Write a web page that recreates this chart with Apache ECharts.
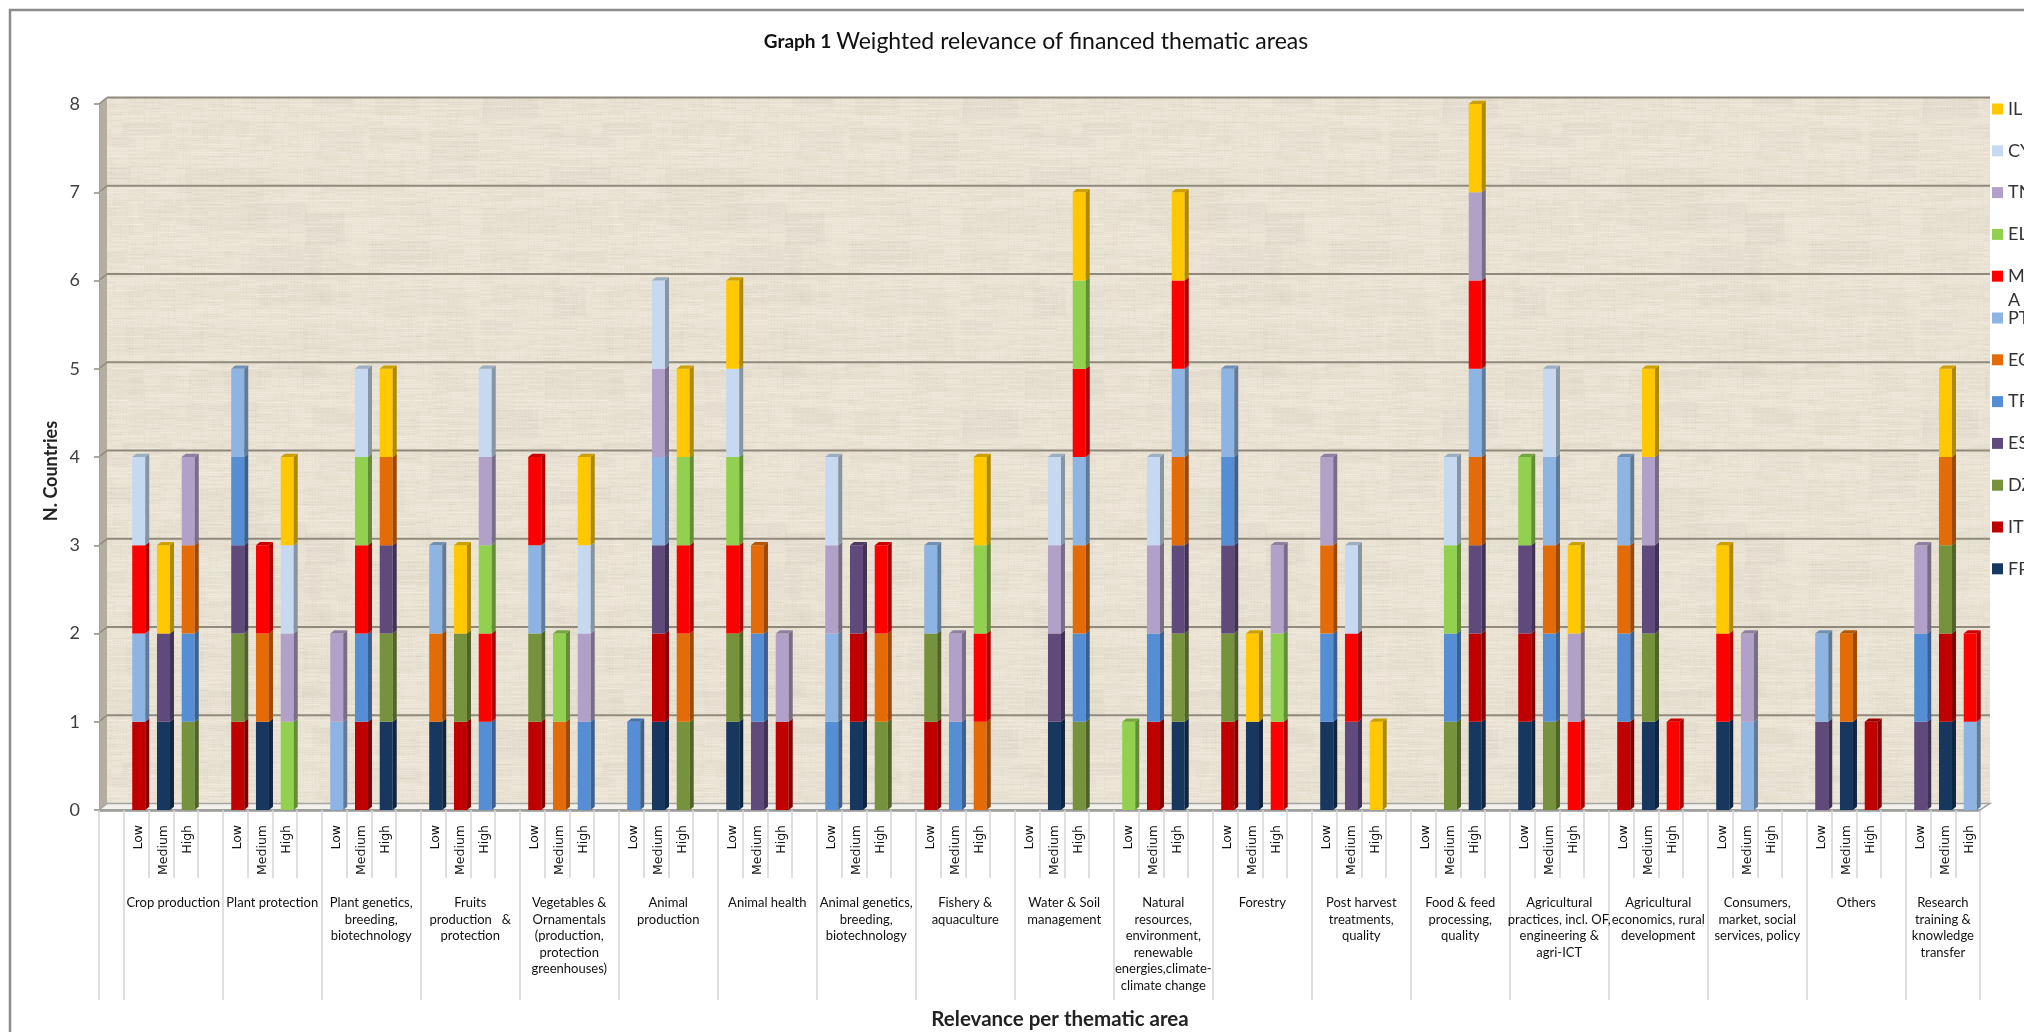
<!DOCTYPE html>
<html><head><meta charset="utf-8">
<script src="https://cdn.jsdelivr.net/npm/echarts@6/dist/echarts.min.js"></script>
<style>html,body{margin:0;padding:0;background:#fff}#c{width:2024px;height:1032px}</style>
</head><body><div id="c"></div>
<script>
const groups=['Crop production','Plant protection','Plant genetics,\nbreeding,\nbiotechnology','Fruits\nproduction   &\nprotection','Vegetables &\nOrnamentals\n(production,\nprotection\ngreenhouses)','Animal\nproduction','Animal health','Animal genetics,\nbreeding,\nbiotechnology','Fishery &\naquaculture','Water & Soil\nmanagement','Natural\nresources,\nenvironment,\nrenewable\nenergies,climate-\nclimate change','Forestry','Post harvest\ntreatments,\nquality','Food & feed\nprocessing,\nquality','Agricultural\npractices, incl. OF,\nengineering &\nagri-ICT','Agricultural\neconomics, rural\ndevelopment','Consumers,\nmarket, social\nservices, policy','Others','Research\ntraining &\nknowledge\ntransfer'];
const levels=['Low','Medium','High'];
const yTicks=[0,1,2,3,4,5,6,7,8];
// values: Low,Medium,High for each of the 19 thematic areas
const FR=[0,1,0, 0,1,0, 0,0,1, 1,0,0, 0,0,0, 0,1,0, 1,0,0, 0,1,0, 0,0,0, 0,1,0, 0,0,1, 0,1,0, 1,0,0, 0,0,1, 1,0,0, 0,1,0, 1,0,0, 0,1,0, 0,1,0];
const IT=[1,0,0, 1,0,0, 0,1,0, 0,1,0, 1,0,0, 0,1,0, 0,0,1, 0,1,0, 1,0,0, 0,0,0, 0,1,0, 1,0,0, 0,0,0, 0,0,1, 1,0,0, 1,0,0, 0,0,0, 0,0,1, 0,1,0];
const DZ=[0,0,1, 1,0,0, 0,0,1, 0,1,0, 1,0,0, 0,0,1, 1,0,0, 0,0,1, 1,0,0, 0,0,1, 0,0,1, 1,0,0, 0,0,0, 0,1,0, 0,1,0, 0,1,0, 0,0,0, 0,0,0, 0,1,0];
const ES=[0,1,0, 1,0,0, 0,0,1, 0,0,0, 0,0,0, 0,1,0, 0,1,0, 0,1,0, 0,0,0, 0,1,0, 0,0,1, 1,0,0, 0,1,0, 0,0,1, 1,0,0, 0,1,0, 0,0,0, 1,0,0, 1,0,0];
const TR=[0,0,1, 1,0,0, 0,1,0, 0,0,1, 0,0,1, 1,0,0, 0,1,0, 1,0,0, 0,1,0, 0,0,1, 0,1,0, 1,0,0, 1,0,0, 0,1,0, 0,1,0, 1,0,0, 0,0,0, 0,0,0, 1,0,0];
const EG=[0,0,1, 0,1,0, 0,0,1, 1,0,0, 0,1,0, 0,0,1, 0,1,0, 0,0,1, 0,0,1, 0,0,1, 0,0,1, 0,0,0, 1,0,0, 0,0,1, 0,1,0, 1,0,0, 0,0,0, 0,1,0, 0,1,0];
const PT=[1,0,0, 1,0,0, 1,0,0, 1,0,0, 1,0,0, 0,1,0, 0,0,0, 1,0,0, 1,0,0, 0,0,1, 0,0,1, 1,0,0, 0,0,0, 0,0,1, 0,1,0, 1,0,0, 0,1,0, 1,0,0, 0,0,1];
const MA=[1,0,0, 0,1,0, 0,1,0, 0,0,1, 1,0,0, 0,0,1, 1,0,0, 0,0,1, 0,0,1, 0,0,1, 0,0,1, 0,0,1, 0,1,0, 0,0,1, 0,0,1, 0,0,1, 1,0,0, 0,0,0, 0,0,1];
const EL=[0,0,0, 0,0,1, 0,1,0, 0,0,1, 0,1,0, 0,0,1, 1,0,0, 0,0,0, 0,0,1, 0,0,1, 1,0,0, 0,0,1, 0,0,0, 0,1,0, 1,0,0, 0,0,0, 0,0,0, 0,0,0, 0,0,0];
const TN=[0,0,1, 0,0,1, 1,0,0, 0,0,1, 0,0,1, 0,1,0, 0,0,1, 1,0,0, 0,1,0, 0,1,0, 0,1,0, 0,0,1, 1,0,0, 0,0,1, 0,0,1, 0,1,0, 0,1,0, 0,0,0, 1,0,0];
const CY=[1,0,0, 0,0,1, 0,1,0, 0,0,1, 0,0,1, 0,1,0, 1,0,0, 1,0,0, 0,0,0, 0,1,0, 0,1,0, 0,0,0, 0,1,0, 0,1,0, 0,1,0, 0,0,0, 0,0,0, 0,0,0, 0,0,0];
const IL=[0,1,0, 0,0,1, 0,0,1, 0,1,0, 0,0,1, 0,0,1, 1,0,0, 0,0,0, 0,0,1, 0,0,1, 0,0,1, 0,1,0, 0,0,1, 0,0,1, 0,0,1, 0,1,0, 1,0,0, 0,0,0, 0,1,0];
const seriesNames=['FR','IT','DZ','ES','TR','EG','PT','MA','EL','TN','CY','IL'];
const seriesValues=[FR,IT,DZ,ES,TR,EG,PT,MA,EL,TN,CY,IL];
const seriesColors=['#17375E','#C00000','#76923C','#604A7B','#558ED5','#E36C09','#8DB4E2','#FF0000','#92D050','#B1A0C7','#C6D9F1','#FFC800'];

const SLOTS=groups.length*4;   // leading blank + 4 per group - trailing blank
const slotOf=(i)=>1+4*Math.floor(i/3)+(i%3);
const slotLabels=new Array(SLOTS).fill('');
for(let i=0;i<groups.length*3;i++) slotLabels[slotOf(i)]=levels[i%3];
const fullSeries=(vals)=>{const a=new Array(SLOTS).fill(0);vals.forEach((v,i)=>{a[slotOf(i)]=v;});return a;};
const groupCenters=groups.map((_,g)=>g===groups.length-1?(1+4*g+1.5):(1+4*g+2));
const groupEdges=[0].concat(groups.map((_,g)=>1+4*g),[SLOTS]);

// depth faces, stacked from the same arrays
const depthData=[];
for(let i=0;i<groups.length*3;i++){
  let base=0,last=-1;
  seriesValues.forEach((s,k)=>{if(s[i]>0)last=k;});
  seriesValues.forEach((s,k)=>{
    if(s[i]>0){depthData.push([slotOf(i),base,base+s[i],k,k===last?1:0]);base+=s[i];}
  });
}
function shade(hex,f){const n=parseInt(hex.slice(1),16);const c=[n>>16,(n>>8)&255,n&255].map(v=>Math.round(v*f));return `rgb(${c[0]},${c[1]},${c[2]})`;}

// woven wall texture
function makeTexture(){
  const cv=document.createElement('canvas');cv.width=480;cv.height=320;
  const g=cv.getContext('2d');g.fillStyle='#EAE3D4';g.fillRect(0,0,480,320);
  const h=(a,b)=>{const t=Math.sin(a*12.9898+b*78.233)*43758.5453;return t-Math.floor(t);};
  for(let y=0;y<320;y+=40){for(let x=0;x<480;x+=60){
    g.fillStyle=`rgba(205,198,182,${0.05+0.12*h(x+1,y+3)})`;
    g.fillRect(x+h(x,y)*20,y+h(y,x)*14,30+h(x+2,y)*50,12+h(x,y+2)*22);
  }}
  for(let y=0;y<320;y+=2){for(let x=0;x<480;x+=16){
    const r=h(x,y),w=8+r*28;
    g.fillStyle=r>0.5?`rgba(250,246,238,${0.08+0.18*h(y,x)})`:`rgba(195,188,172,${0.04+0.12*h(y,x)})`;
    g.fillRect(x,y,w,1);
  }}
  for(let x=0;x<480;x+=3){for(let y=0;y<320;y+=14){
    if(h(x+5,y)>0.7){g.fillStyle='rgba(200,193,178,0.10)';g.fillRect(x,y,1,6+h(x,y+5)*12);}
  }}
  return cv;
}
const texture=makeTexture();
const DX=8,DY=6.5;
function renderWall(params,api){
  const cs=params.coordSys;
  const L=cs.x,R=cs.x+cs.width,B=cs.y+cs.height,T=cs.y;
  const kids=[];
  kids.push({type:'rect',shape:{x:L+DX,y:T-DY,width:R+10-L-DX,height:B-T},style:{fill:{image:texture,repeat:'repeat'}}});
  kids.push({type:'polygon',shape:{points:[[L,T],[L+DX,T-DY],[L+DX,B-DY],[L,B]]},style:{fill:'#B4AEA1'}});
  kids.push({type:'polygon',shape:{points:[[L,B],[L+DX,B-DY],[R+10,B-DY],[R,B]]},style:{fill:'#F3F1EC',stroke:'#A5A5A5',lineWidth:1.5}});
  yTicks.forEach(v=>{
    if(v===0)return;
    const y=api.coord([0,v])[1];
    kids.push({type:'line',shape:{x1:L,y1:y,x2:L+DX,y2:y-DY},style:{stroke:'#8F8A7C',lineWidth:1.5}});
    kids.push({type:'line',shape:{x1:L+DX,y1:y-DY,x2:R+10,y2:y-DY},style:{stroke:'#8F8A7C',lineWidth:2}});
  });
  return {type:'group',children:kids};
}
const BAR_W=13,SX=4,SY=3.2;
function renderDepth(params,api){
  const slot=api.value(0),b=api.value(1),t=api.value(2),col=seriesColors[api.value(3)],top=api.value(4);
  const pB=api.coord([slot,b]),pT=api.coord([slot,t]);
  const x0=pB[0]-BAR_W/2,x1=pB[0]+BAR_W/2;
  const kids=[{type:'polygon',shape:{points:[[x1,pT[1]],[x1+SX,pT[1]-SY],[x1+SX,pB[1]-SY],[x1,pB[1]]]},style:{fill:shade(col,0.68)}}];
  if(top)kids.push({type:'polygon',shape:{points:[[x0,pT[1]],[x0+SX,pT[1]-SY],[x1+SX,pT[1]-SY],[x1,pT[1]]]},style:{fill:shade(col,0.8)}});
  return {type:'group',children:kids};
}

const chart=echarts.init(document.getElementById('c'),null,{renderer:'canvas'});
const barSeries=seriesNames.map((n,k)=>({
  name:n,type:'bar',stack:'total',xAxisIndex:2,yAxisIndex:1,barWidth:BAR_W,z:2,
  itemStyle:{color:seriesColors[k]},data:fullSeries(seriesValues[k]),silent:true
}));
chart.setOption({
  animation:false,backgroundColor:'#fff',
  title:[
    {left:1036,top:30,padding:0,textAlign:'center',text:'{a|Graph 1} {b|Weighted relevance of financed thematic areas}',
     textStyle:{fontWeight:'normal',rich:{a:{fontFamily:'Lato',fontWeight:'bold',fontSize:19,color:'#111'},b:{fontFamily:'Lato',fontWeight:'normal',fontSize:23,color:'#111'}}}},
    {left:1060,top:1009,padding:0,textAlign:'center',text:'Relevance per thematic area',
     textStyle:{fontFamily:'Lato',fontWeight:'bold',fontSize:20.5,color:'#222'}}
  ],
  grid:[
    {left:99,top:104,width:1881,height:706,containLabel:false,outerBoundsMode:'none'},
    {left:101.6,top:104,width:1881,height:706,containLabel:false,outerBoundsMode:'none'}
  ],
  legend:{
    orient:'vertical',left:1992,top:100,padding:0,itemWidth:11,itemHeight:11,itemGap:23.8,
    icon:'rect',selectedMode:false,data:seriesNames.slice().reverse(),
    textStyle:{fontFamily:'Lato',fontSize:18,lineHeight:18,color:'#333'}
  },
  xAxis:[
    {type:'category',gridIndex:0,data:slotLabels,boundaryGap:true,
     axisLine:{show:true,lineStyle:{color:'#9A9A9A',width:2.5}},
     axisTick:{show:true,interval:0,length:68,alignWithLabel:false,lineStyle:{color:'#D3D3D3',width:1.5}},
     axisLabel:{show:false},splitLine:{show:false}},
    {type:'value',gridIndex:0,min:0,max:SLOTS,position:'bottom',
     axisLine:{show:false},splitLine:{show:false},
     axisTick:{show:true,customValues:groupEdges,length:190,lineStyle:{color:'#D3D3D3',width:1.5}},
     axisLabel:{show:true,customValues:groupCenters,margin:85,interval:0,hideOverlap:false,
       fontFamily:'Lato',fontSize:13,lineHeight:16.5,color:'#111',align:'center',verticalAlign:'top',
       formatter:(v)=>groups[groupCenters.indexOf(v)]||''}},
    {type:'category',gridIndex:1,data:slotLabels,boundaryGap:true,
     axisLine:{show:false},axisTick:{show:false},splitLine:{show:false},
     axisLabel:{show:true,interval:0,rotate:90,margin:15,fontFamily:'DejaVu Sans',fontSize:12.5,color:'#111'}}
  ],
  yAxis:[
    {type:'value',gridIndex:0,min:0,max:8,interval:1,
     axisLine:{show:true,lineStyle:{color:'#A8A296',width:1}},
     axisTick:{show:true,length:5,lineStyle:{color:'#8F8A7C',width:1.5}},
     axisLabel:{margin:19,fontFamily:'Lato',fontSize:18,color:'#404040'},splitLine:{show:false}},
    {type:'value',gridIndex:1,min:0,max:8,interval:1,show:false,splitLine:{show:false}}
  ],
  graphic:[
    {type:'rect',z:-1,silent:true,shape:{x:10,y:10,width:2200,height:1200},style:{fill:'none',stroke:'#8C8C8C',lineWidth:2.5}},
    {type:'text',x:51,y:471,rotation:Math.PI/2,silent:true,style:{text:'N. Countries',fontFamily:'Lato',fontWeight:'bold',fontSize:18,fill:'#222',align:'center',verticalAlign:'middle'}},
    {type:'text',x:2008,y:300,silent:true,style:{text:'A',fontFamily:'Lato',fontSize:18,fill:'#333',align:'left',verticalAlign:'middle'}}
  ],
  series:[
    {type:'custom',name:'wall',xAxisIndex:0,yAxisIndex:0,z:0,silent:true,clip:false,data:[[0,0]],encode:{x:0,y:1},renderItem:renderWall}
  ].concat(barSeries,[
    {type:'custom',name:'depth',xAxisIndex:2,yAxisIndex:1,z:3,silent:true,clip:false,data:depthData,encode:{x:0,y:[1,2]},renderItem:renderDepth}
  ])
});
</script>
</body></html>
